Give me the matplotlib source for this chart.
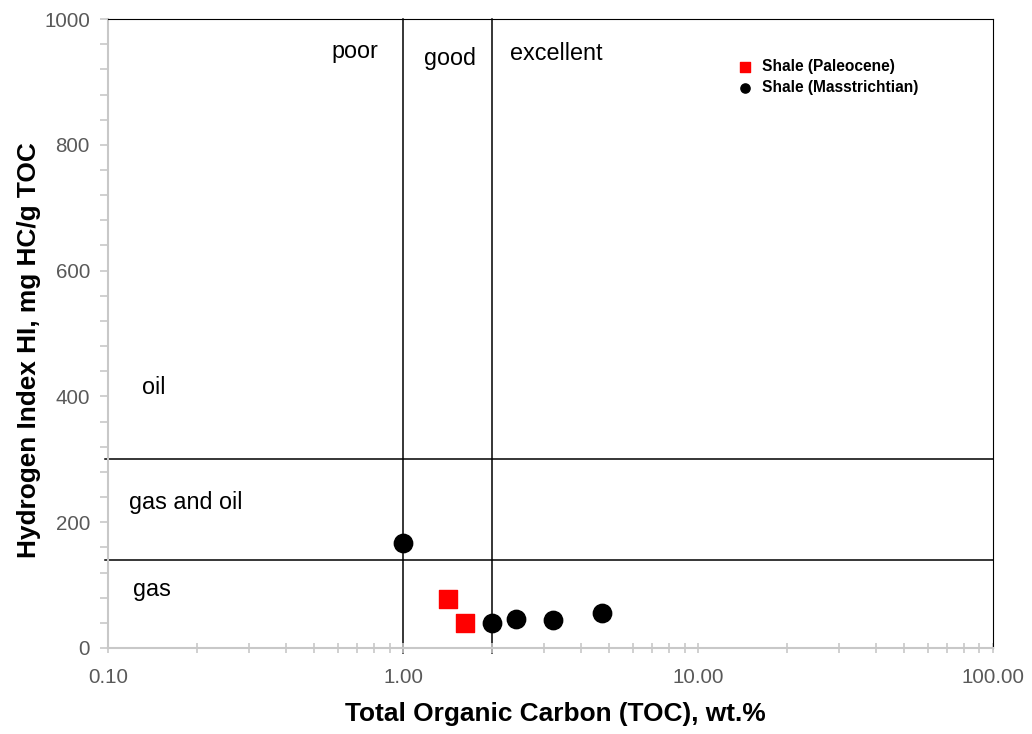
import numpy as np
import matplotlib.pyplot as plt
from matplotlib.ticker import FixedLocator, FixedFormatter, LogLocator, NullFormatter, MultipleLocator

plt.rcParams['font.family'] = ['Liberation Sans', 'DejaVu Sans']

# TOC (wt.%) and HI (mg HC/g TOC) for each group of samples
toc_paleoceno = [1.42, 1.62]
hi_paleoceno = [78, 40]
toc_masstricht = [1.0, 2.0, 2.42, 3.22, 4.73]
hi_masstricht = [167, 40, 46, 44, 56]

# Limits between classes
limites_toc = [1.0, 2.0]
limites_hi = [300, 140]

xticks = [0.1, 1, 10, 100]
xtick_labels = ['0.10', '1.00', '10.00', '100.00']
yticks = [0, 200, 400, 600, 800, 1000]

gris = '#595959'
gris_eje = '#c8c8c8'

fig = plt.figure(figsize=(10.32, 7.34), dpi=100)
ax = fig.add_axes([0.1047, 0.1172, 0.8575, 0.8568])

for x in limites_toc:
    ax.axvline(x, ymin=-0.008, ymax=1, color='black', lw=1.1, zorder=1, clip_on=False)
for y in limites_hi:
    ax.axhline(y, xmin=-0.003, xmax=1, color='black', lw=1.1, zorder=1, clip_on=False)

ax.scatter(toc_paleoceno, hi_paleoceno, marker='s', s=185, color='red', zorder=3,
           label='Shale (Paleocene)')
ax.scatter(toc_masstricht, hi_masstricht, marker='o', s=175, color='black', zorder=3,
           label='Shale (Masstrichtian)')

ax.set_xscale('log')
ax.set_xlim(0.1, 100)
ax.set_ylim(0, 1000)

ax.xaxis.set_major_locator(FixedLocator(xticks))
ax.xaxis.set_major_formatter(FixedFormatter(xtick_labels))
ax.xaxis.set_minor_locator(LogLocator(base=10, subs=np.arange(2, 10)))
ax.xaxis.set_minor_formatter(NullFormatter())
ax.set_yticks(yticks)
ax.yaxis.set_minor_locator(MultipleLocator(40))

ax.tick_params(which='both', colors=gris_eje, labelcolor=gris, labelsize=14.8, width=1.2)
ax.tick_params(axis='x', which='both', direction='inout', length=7, pad=11)
ax.tick_params(axis='y', which='both', direction='out', length=6, pad=7)

ax.spines['left'].set_color(gris_eje)
ax.spines['bottom'].set_color(gris_eje)
ax.spines['left'].set_linewidth(1.5)
ax.spines['bottom'].set_linewidth(1.5)
ax.spines['top'].set_color('black')
ax.spines['right'].set_color('black')

# Class labels
ax.text(0.685, 938, 'poor', fontsize=16.8, ha='center', va='baseline')
ax.text(1.443, 927, 'good', fontsize=16.8, ha='center', va='baseline')
ax.text(3.31, 935, 'excellent', fontsize=16.8, ha='center', va='baseline')
ax.text(0.1424, 404, 'oil', fontsize=16.8, ha='center', va='baseline')
ax.text(0.1831, 221, 'gas and oil', fontsize=16.8, ha='center', va='baseline')
ax.text(0.1406, 82, 'gas', fontsize=16.8, ha='center', va='baseline')

ax.set_xlabel('Total Organic Carbon (TOC), wt.%', fontsize=18.9, fontweight='bold')
ax.set_ylabel('Hydrogen Index HI, mg HC/g TOC', fontsize=18.9, fontweight='bold')
ax.xaxis.set_label_coords(0.5057, -0.0859)
ax.yaxis.set_label_coords(-0.0755, 0.474)

leg = ax.legend(loc='upper left', bbox_to_anchor=(0.711, 0.936), frameon=False,
                markerscale=0.5, prop={'weight': 'bold', 'size': 11.2},
                handlelength=1.0, handletextpad=0.6, labelspacing=0.35, borderpad=0,
                borderaxespad=0)

fig.savefig('out.png', dpi=100)
